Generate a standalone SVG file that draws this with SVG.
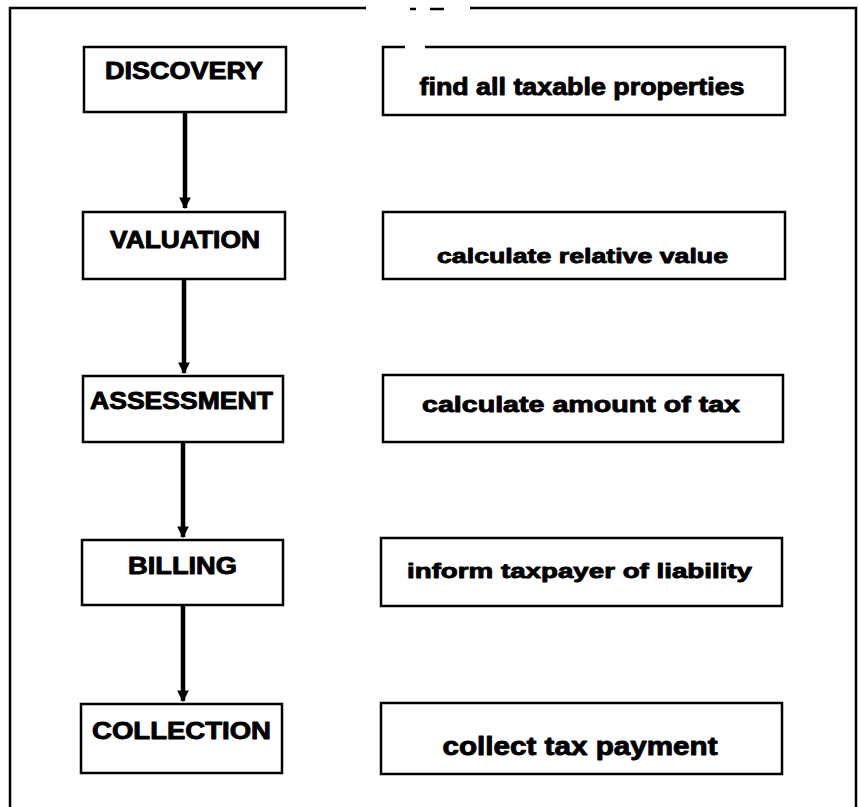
<svg xmlns="http://www.w3.org/2000/svg" width="859" height="807" viewBox="0 0 859 807">
<style>
.box{fill:#fff;stroke:#000;stroke-width:2.5}
.frame{fill:none;stroke:#000;stroke-width:2.5}
.t{font-family:"Liberation Sans",Arial,sans-serif;font-weight:bold;fill:#000;stroke:#000;stroke-width:0.9;stroke-linejoin:round;text-anchor:middle}
.lab{font-size:23px}
.conn{stroke:#000;stroke-width:4.5;fill:none}
</style>
<defs>
<marker id="ah" viewBox="0 0 10 10" refX="9" refY="5" markerWidth="2.6" markerHeight="2.6" orient="auto" markerUnits="strokeWidth">
<path d="M0,0 L10,5 L0,10 z" fill="#000"/>
</marker>
</defs>
<rect width="859" height="807" fill="#fff"/>
<g id="frame">
<path class="frame" d="M10,807 L10,8 L366,8"/>
<path class="frame" d="M470,8 L856,8 L856,807"/>
<path class="frame" d="M410,9 L416,9 M430,9 L444,9" stroke-width="2"/>
</g>
<g id="connectors">
<line class="conn" x1="185" y1="112" x2="185" y2="208" marker-end="url(#ah)"/>
<line class="conn" x1="184" y1="279" x2="184" y2="373" marker-end="url(#ah)"/>
<line class="conn" x1="183" y1="442" x2="183" y2="537" marker-end="url(#ah)"/>
<line class="conn" x1="183" y1="605" x2="183" y2="701" marker-end="url(#ah)"/>
</g>
<g id="discovery">
<rect class="box" x="84" y="47" width="202" height="65"/>
<text class="t lab" x="184" y="79" textLength="158" lengthAdjust="spacingAndGlyphs">DISCOVERY</text>
</g>
<g id="valuation">
<rect class="box" x="83" y="212" width="202" height="67"/>
<text class="t lab" x="185" y="248" textLength="150" lengthAdjust="spacingAndGlyphs">VALUATION</text>
</g>
<g id="assessment">
<rect class="box" x="83" y="376" width="200" height="66"/>
<text class="t lab" x="181.5" y="409" textLength="183" lengthAdjust="spacingAndGlyphs">ASSESSMENT</text>
</g>
<g id="billing">
<rect class="box" x="82" y="540" width="201" height="65"/>
<text class="t lab" x="182.5" y="574" textLength="109" lengthAdjust="spacingAndGlyphs">BILLING</text>
</g>
<g id="collection">
<rect class="box" x="81" y="704" width="201" height="69"/>
<text class="t lab" x="181.5" y="739" textLength="179" lengthAdjust="spacingAndGlyphs">COLLECTION</text>
</g>
<g id="find">
<path class="frame" d="M405,47 L383,47 L383,115 L785,115 L785,47 L425,47"/>
<text class="t" font-size="23" x="582" y="95" textLength="325" lengthAdjust="spacingAndGlyphs">find all taxable properties</text>
</g>
<g id="relative">
<rect class="box" x="383" y="212" width="402" height="67"/>
<text class="t" font-size="21" x="582.5" y="263" textLength="291" lengthAdjust="spacingAndGlyphs">calculate relative value</text>
</g>
<g id="amount">
<rect class="box" x="383" y="375" width="400" height="67"/>
<text class="t" font-size="22" x="581" y="412" textLength="318" lengthAdjust="spacingAndGlyphs">calculate amount of tax</text>
</g>
<g id="inform">
<rect class="box" x="381" y="538" width="401" height="68"/>
<text class="t" font-size="21" x="579.5" y="578" textLength="345" lengthAdjust="spacingAndGlyphs">inform taxpayer of liability</text>
</g>
<g id="collect">
<rect class="box" x="381" y="703" width="401" height="71"/>
<text class="t" font-size="25" x="580" y="755" textLength="275" lengthAdjust="spacingAndGlyphs">collect tax payment</text>
</g>
</svg>
